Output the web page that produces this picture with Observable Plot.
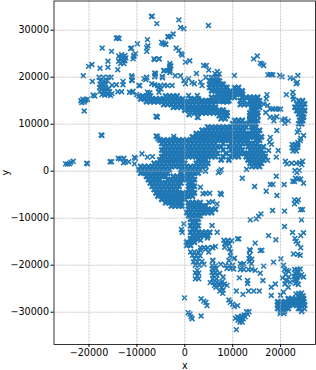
<!DOCTYPE html>
<html><head><meta charset="utf-8">
<script src="https://cdn.jsdelivr.net/npm/d3@7"></script>
<script src="https://cdn.jsdelivr.net/npm/@observablehq/plot@0.6"></script>
<style>body{margin:0;background:#fff}svg{display:block}</style>
</head><body><div id="chart"></div>
<script>
const xTicks=[-20000,-10000,0,10000,20000];
const yTicks=[-30000,-20000,-10000,0,10000,20000,30000];
// [x,y] readings of the sparse parts
const northWest=[[-6970,32900],[-6800,33000],[-5850,31400],[-14300,28300],[-14000,28400],[-13700,28200],[-17250,26200],[-15300,25500],[-11300,26100],[-11100,26200],[-9900,27100],[-7950,26250],[-7950,25500],[-7700,26700],[-7800,28000],[-4500,27100],[-4000,27000],[-4850,27400],[-3400,28600],[-2900,28700],
[-13800,24500],[-13200,24800],[-12500,24600],[-13500,24000],[-12900,24000],[-12300,24100],[-13800,23400],[-13100,23400],[-12500,23500],[-13400,22900],[-12700,22900],[-16050,23400],[-16050,22100],[-17700,21900],[-14000,21600],[-20100,22300],[-19400,22700],[-21200,20300],[-19300,19100],
[-21700,15000],[-21300,15300],[-21000,14700],[-20600,15200],[-20900,15000],[-21500,14600],[-20300,15300],[-21000,12800],[-19150,16200],[-18800,16000],
[-17900,20000],[-17000,20000],[-16000,20000],[-15400,20000],[-17600,19200],[-16900,19200],[-16200,19300],[-17700,18500],[-17100,18400],[-16500,18500],[-17800,17800],[-17200,17700],[-16600,17800],[-15900,17600],[-17700,17000],[-17000,17000],[-16400,17000],[-15700,16900],[-17300,16300],[-16700,16200],[-16100,16300],[-15500,16100],[-15200,16500],
[-14300,18400],[-15200,18300],[-12900,19100],[-12900,18400],[-14000,16900],[-13200,16900],[-11100,20300],[-11100,19400],[-11550,16800],[-10800,17000],[-10050,16300],[-9400,18200],[-7950,19900],[-8150,19500],[-7300,16700],[-6100,20800],[-6200,20400],[-6300,18400],[-4650,19850],[-5100,18200],[-3600,18200],[-5500,17700],[-6300,23750],[-5350,23900],[-10300,25000],[-10800,23900],[-10650,24400],[-4300,21400],[-3200,22100],
[-5900,11600],[-5700,11500],[-6000,11700],[-17450,7700],[-17300,7600],[-24900,1560],[-24500,1500],[-24100,1600],[-23800,1900],[-23300,2100],[-20500,1700],[-20300,1600],[-15600,2000],[-15300,2000],[-13900,2750],[-13500,2600],[-12700,2750],[-12400,2000],[-12800,1800],[-11700,2000],[-10500,2950],[-10300,2700],[-10500,1550],[-8950,3700],[-7800,3000],[-6750,3100],[-6000,7500],[-5600,6900],[-5700,7400],[-2300,7400],[-2300,6900]];
const north=[[-1250,32200],[-900,30600],[-200,30300],[4930,31000],[-3540,28600],[-2430,29200],[-4500,27200],[-4000,27000],[-1800,26200],[-1250,25700],[-760,25000],[-550,24700],[140,23200],[1040,23500],[-3120,22900],[-3120,22400],[-3120,21900],[-3120,21400],[-3120,21000],[-2900,22400],[-4370,21400],[3950,22500],[4500,22500],[5000,21500],[2430,20800],[6300,20800],[6800,21200],[7200,20700],[6700,20300],[10340,20350],
[-10600,24600],[-6460,23900],[-5400,23900],[-4400,21400],[-3700,21400],[-9600,18240],[-8000,20000],[-8500,19700],[-6300,20860],[-6300,20100],[-4700,20150],[-6900,18600],[-5700,18200],[-4300,18300],[-2650,18240],[-5000,17500],[-5400,16800],[-7800,16800],[-2000,20300],[-900,20300],[-200,19300],[150,18600],[1500,18900],[800,19700],[2000,18600],[800,16100],[2600,16100],[-11000,20000],[-11000,19300],[-11000,16800],[840,12100],[1000,12000],[2580,11500],[2800,11400],[4400,20000],[3300,19000],[3600,18200]];
const east=[[14370,23900],[15130,24500],[15750,23000],[16100,22800],[16450,22500],[17350,20500],[17800,20600],[18100,20500],[18400,20500],[19800,20400],[20300,20100],[22000,19850],[22700,19700],[23600,20350],[23250,18600],[23500,18900],[21200,16300],[22550,16800],[22600,15900],[22700,15300],[17150,16300],[17000,15400],[16500,14300],[17300,14000],[16900,12500],[17800,13250],[18400,13250],[19000,13250],[19600,13250],[20000,13200],[17800,11500],[18500,11400],[19200,11600],[18600,10700],[20300,10900],[20900,11100],[21600,10700],[20900,10200],[19200,8650],[17850,7200],[17700,6200],[18100,5700],[17500,4400],[19500,4400],[19100,3000],[17300,2300],[21300,1560],[21000,2100],[22300,1700],[23300,1700],[24000,1800],[24600,2100],[24400,1400],
[23500,8300],[23800,8800],[24800,7600],[24200,7000],[24100,6500],[23600,6100],[22400,5700],[23000,5700],[23600,5600],[22400,5000],[23000,5000],[23600,5100],[22600,4300],[23300,4300],[23000,140],[23900,180],[23400,-300],[23700,-1600],[23100,-1500],[24200,-1700],[22900,-2200],[19100,-1060],[15200,1300],[12900,400],[7290,0],[7600,300],[7000,-300],[4320,0],[14570,-3260],[17000,-4250],[17840,-2840],[18390,-2800],[19220,-5170],[20750,-2840],[22550,-2130],[24780,-2550],[12000,-1500]];
const south=[[3260,-3400],[4400,-4700],[5200,-4700],[3800,-4800],[7630,-4960],[7400,-4700],[5800,-6500],[6730,-6950],[5000,-6600],[-550,-13000],[-700,-12400],[-200,-11200],[5700,-11550],[6760,-13000],[3300,-14700],[4700,-14200],
[1200,-17200],[2000,-17200],[2800,-17200],[1600,-17900],[2400,-17900],[3200,-18000],[2000,-18600],[2800,-18600],[1800,-19300],[2600,-19300],[3600,-19200],[2200,-20000],[3000,-20000],[4000,-19800],[2600,-21100],[2200,-21600],[2900,-21700],[2600,-22300],[2200,-22900],[2900,-22900],[3280,-16300],[4000,-16200],[4800,-16300],[5700,-16200],[5850,-19000],[5000,-17200],
[5715,-20100],[6400,-20100],[5800,-20800],[6500,-20700],[5700,-21500],[6400,-21500],[5900,-22200],[6700,-22100],[5800,-22900],[6600,-22900],[6000,-23700],[6700,-23600],[7300,-24300],[5300,-23700],[6200,-24300],[7700,-24000],
[8150,-14700],[9000,-14700],[9800,-14800],[8500,-15400],[9300,-15500],[8300,-16200],[9300,-16500],[9600,-17200],[11280,-14400],[11000,-14400],[9500,-18000],[9200,-19000],[8500,-20000],[9300,-20100],[10000,-20000],[8800,-20700],[9600,-20700],[10200,-20800],
[14700,-15300],[13530,-16700],[15750,-16900],[16100,-16800],[18530,-19350],[20050,-18650],[20600,-20000],[16450,-20200],[15750,-21700],[16300,-23250],[11380,-22700],[13100,-23250],[13100,-23900],[11600,-19700],[12300,-19700],[11600,-20900],[12300,-20900],[13300,-20900],[14000,-20900],[14700,-21100],[13500,-17900],[13400,-18600],[14000,-18700],[13500,-19200],[13900,-19700],[13670,-16900],[10750,-25500],[12140,-26200],[13300,-25500],[14400,-25500],[15550,-25500],[9500,-27900],[9200,-27400],[11030,-28600],[10300,-28800],[10000,-28300],
[10550,-31300],[11000,-31000],[11500,-31100],[11900,-30800],[12400,-30600],[12900,-29900],[13400,-29900],[11100,-31700],[11700,-31700],[12200,-31400],[12600,-31000],[13100,-30400],[12000,-32100],[11500,-32100],[10750,-33700],[-70,-26950],[3400,-27150],[3950,-27650],[4400,-27900],[4650,-28600],[690,-30100],[1100,-30400],[1530,-31400],[1300,-31000],[3400,-30800],
[8810,-24300],[7000,-24000],[7700,-24700],[7300,-25500],[8000,-25300],[7900,-26000],[8300,-24000],[6500,-24700],[7800,-23500],[7300,-21700],[5830,-19000],[7500,-19800],[8000,-22500],[10250,-18600],[8500,-15100],[11940,-19900],[10400,-18500],[5830,-16300],[6400,-16000],[4300,-16600],[3300,-16900]];
const southEast=[[20820,-8500],[18320,-8370],[15900,-9080],[13670,-10350],[14900,-10140],[15400,-9600],[24360,-10350],[24570,-8150],[24200,-8200],[22900,-6100],[23700,-6100],[22900,-6950],[23400,-6500],[20820,-11770],[22490,-13050],[24780,-13100],[24200,-13700],[17490,-13700],[19000,-14600],[23250,-14900],[23000,-14300],[23600,-15400],[24200,-16300],[22700,-17600],[24100,-17900],[23600,-17700],[21300,-21100],[20800,-20900],[21700,-21300],[21000,-22000],[21700,-22500],[20400,-22700],[21200,-23200],[22000,-23600],[20900,-24000],[21600,-24700],[22900,-20900],[23500,-20900],[24100,-20800],[23000,-21700],[23600,-21600],[22800,-22400],[23400,-22500],[24000,-22300],[24780,-22500],[24400,-22000],[22900,-23100],[23500,-23200],[23100,-23900],[23700,-24100],[18900,-24000],[18050,-24700],[18050,-26450],[20600,-25700],[20000,-26400],[23800,-26000],[23200,-26100],[24400,-25900],[24000,-26600],[24700,-26500],[23700,-29200],[24400,-29700],[25000,-29300],[19900,-30300],[20700,-30300]];
// readings of the filled areas, row by row: y first, then the x of each marker
const massRows=[
[10800,10400,11200,12000,13600,14400,15200],
[10100,10000,10800,11600,12400,13200,14000,14800],
[9400,4800,5600,6400,7200,8000,8800,9600,10400,11200,12000,12800,14000,14800],
[8700,3600,4400,5200,6000,6800,7600,8400,9200,10000,10800,11600,12400,14000,14800,15600],
[8000,2400,3200,4000,4800,5600,6400,7200,8000,8800,9600,10400,11200,12000,12800,13600,14400,15200],
[7300,1600,2400,3200,4000,4800,5600,6400,7200,8000,8800,9600,10400,11200,12000,12800,13600,14400,15200,16000],
[6600,-5200,-4400,-3600,-2800,-2000,-1200,-400,400,1200,2000,2800,3600,4400,5200,6000,6800,7600,8400,9200,10000,10800,11600,12400,13200,14800,15600],
[5900,-4800,-4000,-3200,-2400,-1600,-800,0,800,1600,2400,3200,4000,4800,5600,6400,8000,9600,10400,11200,12000,12800,13600,14400,15200],
[5200,-4400,-3600,-2800,-2000,-1200,-400,400,1200,2000,2800,3600,4400,5200,6000,6800,7600,9200,10000,10800,11600,13200,14000,14800,15600,16400],
[4500,-4800,-4000,-3200,-2400,-1600,-800,0,800,1600,2400,3200,4000,4800,5600,6400,8000,9600,10400,11200,12000,13600,14400,15200,16000],
[3800,-4400,-3600,-2800,-2000,-1200,-400,400,1200,2000,2800,3600,4400,5200,6000,6800,8600,10000,10800,11600,12400,13200,14000,14800,15600,16400],
[3100,-4800,-4000,-3200,-2400,-1600,-800,0,800,1600,2400,3200,4000,4800,5600,6400,8000,9600,10400,11200,12800,13600,14400,15200,16000,16800],
[2400,-5200,-4400,-3600,-2800,-2000,-1200,-400,2800,3600,4400,7600,9200,13200,14000,14800,15600,16400],
[1700,-6400,-5600,-4800,-4000,-3200,-2400,-1600,-800,0,2400,3200,4000,4800,13600,14400,15200,16000],
[1000,-9200,-8400,-7600,-6800,-6000,-5200,-4400,-3600,-2800,-2000,-1200,-400,400,1200,2000,2800,3600,4400,14000,14800,15600],
[300,-9600,-8800,-8000,-7200,-6400,-5600,-4800,-4000,-3200,-800,0,800,1600,2400,3200],
[-400,-9200,-8400,-7600,-6800,-6000,-5200,-4400,-3600,-800,400,1200,2000,2800],
[-1100,-8000,-7200,-6400,-5600,-4800,-4000,-2400,-1600,-800,0,800,1600],
[-1800,-7600,-6800,-6000,-5200,-3600,-2800,-2000,-1200,-400,400,1200,2000],
[-2500,-7200,-6400,-5600,-4800,-4000,-3200,-2400,-1600,-800,800,1600],
[-3200,-6800,-6000,-5200,-4400,-3600,-2800,-2000,-1200,800,1600,2000],
[-3900,-6400,-5600,-4800,-4000,-3200,-2400,-1600,800,1600],
[-4600,-6000,-5200,-4400,-3600,-2800,-2000,-1200,-400,400,1200,2000],
[-5300,-5600,-4800,-4000,-3200,-2400,-1600,-800,0,400,800,1600],
[-6000,-4800,-4000,-3200,-2400,-1600,-800,0],
[-6700,-4000,-3200,-2400,-1600,-800,800,1600,2400,3200],
[-7400,-2800,-2000,-1200,-600,800,1600,2400,3200,4000,4400],
[-8100,800,1600,2400,3200,4000,4800,5600,6400],
[-8800,400,1200,2000,2800,3600,4000,4800,5600],
[-9500,800,1600,2400,3200],
[-10200,1200,2000,2800],
[-10900,1600,2400],
[-11600,1200,2000,2800],
[-12300,1600,2400],
[-13000,1200,2000,2800,3600,4400,5200],
[-13700,1600,2400,3200,4000,4800],
[-14400,1200,2000,2800],
[-15100,400,1200,2000],
[-15800,400,1200],
// upper band
[19900,5600,6400,6800],
[19200,5200,6000,6800,7200],
[18500,5200,6000,6800,7600,8000],
[17800,5200,6000,6800,7600,8400,8800,10400,11200],
[17100,5600,6400,7200,8000,8800,9600,10400,11200,12000],
[16400,6800,7600,8400,9200,9600,10000,10800,11600,12000],
[16000,-9600,-8800,-8000,-7200,-4000,-3200,-2400,-1600],
[15700,5600,6400,7200,8000,8800,9600,10400,12000,12800,13600,14400,15200],
[15400,-9200,-8400,-7600,-6800,-6000,-5200,-4400,-3600,-2800,-2000,-1200,-400,1200,2000,2800],
[15000,3600,4400,5200,6000,6800,7600,8400,9200,11600,12400,13600,14400,15000,15600],
[14800,-8000,-7200,-6400,-5600,-4800,-4000,-3200,-2400,-1600,-800,0,800,1600,2400,3200,4000,4800,5600,6400,8000,8800],
[14200,-4400,-3600,-2800,-2000,-1200,-400,400,1200,2000,2800,3600,4400,5200,6000,11600,12400,13200,14000,14800,15600],
[13600,-2400,-1600,-800,0,800,1600,2400,3200,4000,4800,5600,6400,14000,14800,15600],
[13000,0,800,1600,2400,3200,4000,4800,5600,6400,7200,8000,14000,14800],
[12400,2000,2800,3600,4400,5200,6000,6800,7600,8400,8800,13600,14400,15200],
[11800,7200,8000,8800,13600,14400,15200],
[11200,7600,8400,13600,14400],
// east column
[15000,23800,24600],[14300,23400,24200,25000],[13600,23000,23800,24600],[12900,23400,24200,25000],[12200,23800,24600],[11500,24200,24800],[10800,24000,24600],[10100,23800,24400],
// bottom right
[-27100,21600,22400,23200,24000,24800],
[-27800,19400,20200,21000,21800,22600,23400,24200,24800],
[-28500,19400,20200,21000,21800,22600,23400,24200,25000],
[-29200,19400,20200,21000,21600,24000],
[-29800,20000,20800,24400]
];
const dense=massRows.flatMap(([y,...xs])=>xs.map(x=>[x,y]));
const sparse=[...northWest,...north,...east,...south,...southEast];
const minusFormat=d=>String(d).replace("-","\u2212");
const plot=Plot.plot({
  width:316,height:370,
  marginLeft:53.5,marginRight:1,marginTop:0.5,marginBottom:26,
  style:{fontFamily:"DejaVu Sans",fontSize:"9.6px",color:"#000",background:"#fff",overflow:"visible"},
  x:{domain:[-27310,27286]},
  y:{domain:[-36872,36213]},
  marks:[
    Plot.dot(dense,{x:d=>d[0],y:d=>d[1],symbol:"times",r:2.4,stroke:"#1f77b4",strokeWidth:2.3}),
    Plot.dot(sparse,{x:d=>d[0],y:d=>d[1],symbol:"times",r:2.3,stroke:"#1f77b4",strokeWidth:1.6}),
    Plot.gridX(xTicks,{stroke:"#b0b0b0",strokeOpacity:1,strokeWidth:0.7,strokeDasharray:"2,1"}),
    Plot.gridY(yTicks,{stroke:"#b0b0b0",strokeOpacity:1,strokeWidth:0.7,strokeDasharray:"2,1"}),
    Plot.axisX(xTicks,{label:"x",labelAnchor:"center",labelArrow:"none",labelOffset:24,tickSize:3,tickPadding:2,tickFormat:minusFormat,fontSize:9.6}),
    Plot.axisY(yTicks,{label:"y",labelAnchor:"center",labelArrow:"none",labelOffset:51.5,tickSize:3,tickPadding:2,tickFormat:minusFormat,fontSize:9.6}),
    Plot.frame({stroke:"#000",strokeWidth:0.8})
  ]
});
document.getElementById("chart").append(plot);
</script></body></html>
